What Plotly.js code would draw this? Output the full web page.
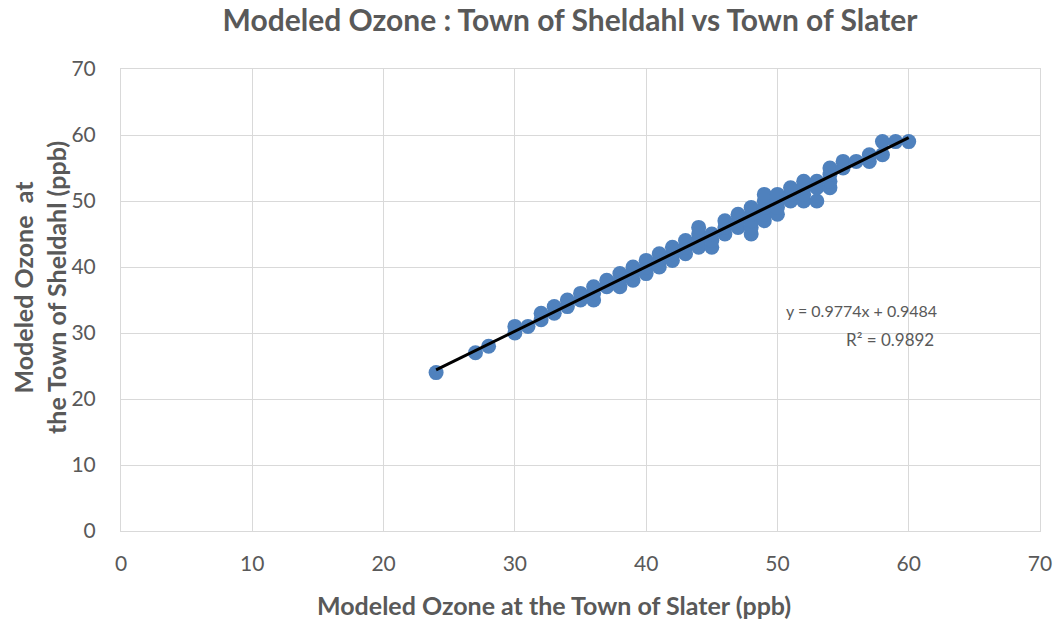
<!DOCTYPE html>
<html><head><meta charset="utf-8">
<script src="https://cdn.plot.ly/plotly-3.0.1.min.js"></script>
<style>body{margin:0;background:#fff}#c{width:1055px;height:622px}</style>
</head><body><div id="c"></div>
<script>
const slater =   [24,27,28,30,30,31,32,32,33,33,34,34,35,35,36,36,36,37,37,38,38,38,39,39,39,40,40,40,41,41,41,42,42,42,43,43,43,44,44,44,44,45,45,45,46,46,46,47,47,47,48,48,48,48,48,49,49,49,49,49,50,50,50,50,51,51,51,52,52,52,52,53,53,53,54,54,54,54,55,55,56,57,57,58,58,59,60];
const sheldahl = [24,27,28,30,31,31,32,33,33,34,34,35,35,36,35,36,37,37,38,37,38,39,38,39,40,39,40,41,40,41,42,41,42,43,42,43,44,43,44,45,46,43,44,45,45,46,47,46,47,48,45,46,47,48,49,47,48,49,50,51,48,49,50,51,50,51,52,50,51,52,53,50,52,53,52,53,54,55,55,56,56,56,57,57,59,59,59];
const xTicks = [0,10,20,30,40,50,60,70];
const yTicks = [0,10,20,30,40,50,60,70];
const slope = 0.9774, intercept = 0.9484, r2 = 0.9892;
const xMin = Math.min(...slater), xMax = Math.max(...slater);
const trendX = [xMin, xMax];
const trendY = trendX.map(x => slope*x + intercept);
const font = "Lato, 'Open Sans', sans-serif";
const grey = '#595959';
Plotly.newPlot('c', [
  {x: slater, y: sheldahl, type:'scatter', mode:'markers',
   marker:{color:'#4F81BD', size:15, line:{width:0}}},
  {x: trendX, y: trendY, type:'scatter', mode:'lines',
   line:{color:'#000000', width:3}}
], {
  width:1055, height:622, showlegend:false,
  paper_bgcolor:'#fff', plot_bgcolor:'#fff',
  margin:{l:121, r:15, t:69, b:91},
  title:{text:'<b>Modeled Ozone : Town of Sheldahl vs Town of Slater</b>', x:0.4886, xanchor:'center', xref:'paper', y:0.967, yanchor:'middle',
         font:{family:font, size:30, color:grey}},
  xaxis:{range:[0,70], tickvals:xTicks, ticktext:xTicks.map(String), showgrid:true, gridcolor:'#D9D9D9', gridwidth:1,
         zeroline:false, showline:true, linecolor:'#D9D9D9', mirror:true, ticks:'', ticklabelstandoff:14,
         tickfont:{family:font, size:21, color:grey}},
  yaxis:{range:[0,70], tickvals:yTicks, ticktext:yTicks.map(String), showgrid:true, gridcolor:'#D9D9D9', gridwidth:1,
         zeroline:false, showline:true, linecolor:'#D9D9D9', mirror:true, ticks:'', ticklabelstandoff:20,
         tickfont:{family:font, size:21, color:grey}},
  annotations:[
    {x:-0.0881, y:0.526, xref:'paper', yref:'paper', xanchor:'center', yanchor:'middle', showarrow:false, textangle:-90,
     text:'<b>Modeled Ozone  at<br>the Town of Sheldahl (ppb)</b>', font:{family:font, size:25, color:grey}},
    {x:(554-121)/919, y:-0.160, xref:'paper', yref:'paper', xanchor:'center', yanchor:'middle', showarrow:false,
     text:'<b>Modeled Ozone at the Town of Slater (ppb)</b>', font:{family:font, size:25, color:grey}},
    {x:56.44, y:33.48, xref:'x', yref:'y', xanchor:'center', yanchor:'middle', showarrow:false,
     text:'y = '+slope+'x + '+intercept, font:{family:font, size:16, color:grey}},
    {x:58.57, y:29.09, xref:'x', yref:'y', xanchor:'center', yanchor:'middle', showarrow:false,
     text:'R² = '+r2, font:{family:font, size:17, color:grey}}
  ]
}, {displayModeBar:false, staticPlot:true});
</script></body></html>
